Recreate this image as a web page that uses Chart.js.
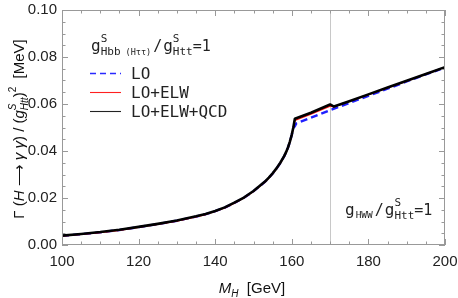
<!DOCTYPE html>
<html lang="en">
<head>
<meta charset="UTF-8">
<script src="https://cdn.jsdelivr.net/npm/chart.js@4.4.1/dist/chart.umd.min.js"></script>
<style>
  body { margin: 0; background: #fff; }
  #wrap { width: 458px; height: 298px; }
</style>
</head>
<body>
<div id="wrap"><canvas id="c"></canvas></div>
<script>
// M_H values (GeV) and widths (MeV)
const mhLow = [100, 105, 110, 115, 120, 125, 130, 135, 137.5, 140, 142.5, 145, 147.5, 150, 151.5, 153, 154, 155, 156, 157, 158, 158.5, 159, 159.5, 160, 160.4]
const gLow  = [0.0040, 0.0047, 0.0055, 0.0065, 0.0077, 0.0090, 0.0104, 0.0122, 0.0132, 0.0145, 0.0160, 0.0180, 0.0202, 0.0230, 0.0250, 0.0270, 0.0287, 0.0305, 0.0326, 0.0350, 0.0378, 0.0395, 0.0415, 0.0440, 0.0470, 0.0500]

const mhLO = [160.8, 161.2, 165, 170, 175, 180, 185, 190, 195, 200]
const gLO  = [0.0505, 0.0518, 0.0542, 0.0574, 0.0604, 0.0635, 0.0665, 0.0696, 0.0726, 0.0755]

const mhELW = [160.8, 165, 170, 171, 175, 180, 185, 190, 195, 200]
const gELW  = [0.0530, 0.0557, 0.0591, 0.0588, 0.0611, 0.0640, 0.0669, 0.0698, 0.0727, 0.0756]

const mhQCD = [160.8, 165, 170, 171, 175, 180, 185, 190, 195, 200]
const gQCD  = [0.0537, 0.0563, 0.0598, 0.0589, 0.0612, 0.0641, 0.0670, 0.0699, 0.0728, 0.0757]

const xTicks = [100, 120, 140, 160, 180, 200]
const yTicks = [0, 0.02, 0.04, 0.06, 0.08, 0.10]
const xLine = 170

function pts(xs, ys) {
  return xs.map((x, i) => ({ x: x, y: ys[i] }))
}

const MONO = '"DejaVu Sans Mono", monospace'
const SANS = '"Liberation Sans", Arial, sans-serif'

// draw a row of text runs, returns width
function runs(ctx, x, y, list, measureOnly) {
  let cx = x
  for (const r of list) {
    if (r.sup !== undefined) {
      ctx.font = r.f
      const w1 = ctx.measureText(r.sup).width
      const w2 = ctx.measureText(r.sub).width
      if (!measureOnly) {
        ctx.fillText(r.sup, cx, y + r.up)
        ctx.fillText(r.sub, cx, y + r.dn)
      }
      cx += Math.max(w1, w2)
    } else {
      ctx.font = r.f
      if (!measureOnly) ctx.fillText(r.t, cx, y + (r.dy || 0))
      cx += ctx.measureText(r.t).width + (r.gap || 0)
    }
  }
  return cx - x
}

const decor = {
  id: 'decor',
  beforeDatasetsDraw(chart) {
    const { ctx, chartArea: a, scales } = chart
    const px = scales.x.getPixelForValue(xLine)
    ctx.save()
    ctx.strokeStyle = '#c8c8c8'
    ctx.lineWidth = 1
    ctx.beginPath()
    ctx.moveTo(Math.round(px) + 0.5, a.top)
    ctx.lineTo(Math.round(px) + 0.5, a.bottom)
    ctx.stroke()
    ctx.restore()
  },
  afterDraw(chart) {
    const { ctx, chartArea: a, scales } = chart
    ctx.save()
    // frame
    ctx.strokeStyle = '#999'
    ctx.lineWidth = 1
    ctx.strokeRect(a.left + 0.5, a.top + 0.5, a.right - a.left - 1, a.bottom - a.top - 1)
    ctx.beginPath()
    for (let v = 100; v <= 200; v += 5) {
      const p = Math.round(scales.x.getPixelForValue(v)) + 0.5
      const len = v % 20 === 0 ? 6 : 3.5
      ctx.moveTo(p, a.bottom); ctx.lineTo(p, a.bottom - len)
      ctx.moveTo(p, a.top); ctx.lineTo(p, a.top + len)
    }
    for (let i = 0; i <= 20; i++) {
      const v = i * 0.005
      const p = Math.round(scales.y.getPixelForValue(v)) + 0.5
      const len = i % 4 === 0 ? 6 : 3.5
      ctx.moveTo(a.left, p); ctx.lineTo(a.left + len, p)
      ctx.moveTo(a.right, p); ctx.lineTo(a.right - len, p)
    }
    ctx.stroke()

    ctx.fillStyle = '#222'
    ctx.textBaseline = 'alphabetic'
    ctx.textAlign = 'left'

    // header
    const big = '16px ' + MONO, mid = '15px ' + MONO, sm = '11px ' + MONO, xs = '8.5px ' + MONO
    runs(ctx, 91, 51, [
      { t: 'g', f: big },
      { sup: 'S', sub: 'Hbb', f: sm, up: -9, dn: 4 },
      { t: ' (H\u03c4\u03c4)', f: xs, dy: 4, gap: 2 },
      { t: '/', f: mid, gap: 1 },
      { t: 'g', f: big },
      { sup: 'S', sub: 'Htt', f: sm, up: -9, dn: 4 },
      { t: '=1', f: mid }
    ])

    // legend
    const leg = [
      { t: 'LO', c: '#2a2aff', d: [6, 4], w: 1.3, y: 73 },
      { t: 'LO+ELW', c: '#ff2020', d: [], w: 1.1, y: 92 },
      { t: 'LO+ELW+QCD', c: '#222', d: [], w: 1.1, y: 111 }
    ]
    for (const l of leg) {
      ctx.strokeStyle = l.c
      ctx.lineWidth = l.w
      ctx.setLineDash(l.d)
      ctx.beginPath()
      ctx.moveTo(90, l.y + 0.5); ctx.lineTo(121, l.y + 0.5)
      ctx.stroke()
      ctx.setLineDash([])
      ctx.font = '16px ' + MONO
      ctx.fillText(l.t, 131, l.y + 6)
    }

    // lower right note
    runs(ctx, 345, 215, [
      { t: 'g', f: big, gap: 1 },
      { t: 'HWW', f: '9.5px ' + MONO, dy: 3, gap: 2 },
      { t: '/', f: mid, gap: 1 },
      { t: 'g', f: big },
      { sup: 'S', sub: 'Htt', f: sm, up: -9, dn: 4 },
      { t: '=1', f: mid }
    ])

    // axis titles
    ctx.fillStyle = '#111'
    const it = 'italic 15px ' + SANS, rg = '15px ' + SANS, its = 'italic 10px ' + SANS, rs = '10px ' + SANS
    const xt = [
      { t: 'M', f: it },
      { t: 'H', f: its, dy: 4 },
      { t: '  [GeV]', f: rg }
    ]
    const xw = runs(ctx, 0, 0, xt, true)
    runs(ctx, 252 - xw / 2, 293, xt)

    const yt = [
      { t: '\u0393', f: rg },
      { t: ' (', f: rg },
      { t: 'H', f: it },
      { t: ' \u27f6 ', f: rg },
      { t: '\u03b3 \u03b3', f: it },
      { t: ') / (', f: rg },
      { t: 'g', f: it },
      { sup: 'S', sub: 'Htt', f: its, up: -8, dn: 4 },
      { t: ')', f: rg },
      { t: '2', f: rs, dy: -8 },
      { t: '  [MeV]', f: rg }
    ]
    const yw = runs(ctx, 0, 0, yt, true)
    ctx.translate(24, 129)
    ctx.rotate(-Math.PI / 2)
    runs(ctx, -yw / 2, 0, yt)
    ctx.restore()
  }
}

const ctx = document.getElementById('c').getContext('2d')
const chart = new Chart(ctx, {
  type: 'scatter',
  data: {
    datasets: [
      {
        label: 'LO+ELW+QCD',
        data: pts(mhLow.concat(mhQCD), gLow.concat(gQCD)),
        borderColor: '#000',
        borderWidth: 2.6,
        showLine: true,
        pointRadius: 0
      },
      {
        label: 'LO+ELW',
        data: pts(mhLow.concat(mhELW), gLow.map(v => v - 0.0002).concat(gELW)),
        borderColor: '#ff1010',
        borderWidth: 1.4,
        showLine: true,
        pointRadius: 0
      },
      {
        label: 'LO',
        data: pts(mhLow.concat(mhLO), gLow.map(v => v - 0.0001).concat(gLO)),
        borderColor: '#1f1fff',
        borderWidth: 2.4,
        borderDash: [7, 4],
        showLine: true,
        pointRadius: 0
      }
    ]
  },
  options: {
    responsive: true,
    maintainAspectRatio: false,
    animation: false,
    layout: { padding: { top: 10, right: 13, left: 0, bottom: 0 } },
    plugins: { legend: { display: false }, tooltip: { enabled: false } },
    elements: { line: { tension: 0, borderJoinStyle: 'round' } },
    scales: {
      x: {
        type: 'linear', min: 100, max: 200,
        afterBuildTicks: s => { s.ticks = xTicks.map(v => ({ value: v })) },
        afterFit: s => { s.height = 53; s.paddingLeft = 0; s.paddingRight = 0 },
        grid: { display: false, drawTicks: false },
        border: { display: false },
        ticks: { color: '#222', font: { family: SANS, size: 15 }, padding: 8, maxRotation: 0 }
      },
      y: {
        min: 0, max: 0.1,
        afterBuildTicks: s => { s.ticks = yTicks.map(v => ({ value: v })) },
        afterFit: s => { s.width = 62; s.paddingTop = 0; s.paddingBottom = 0 },
        grid: { display: false, drawTicks: false },
        border: { display: false },
        ticks: { color: '#222', font: { family: SANS, size: 15 }, padding: 5, callback: v => v.toFixed(2) }
      }
    }
  },
  plugins: [decor]
})
</script>
</body>
</html>
